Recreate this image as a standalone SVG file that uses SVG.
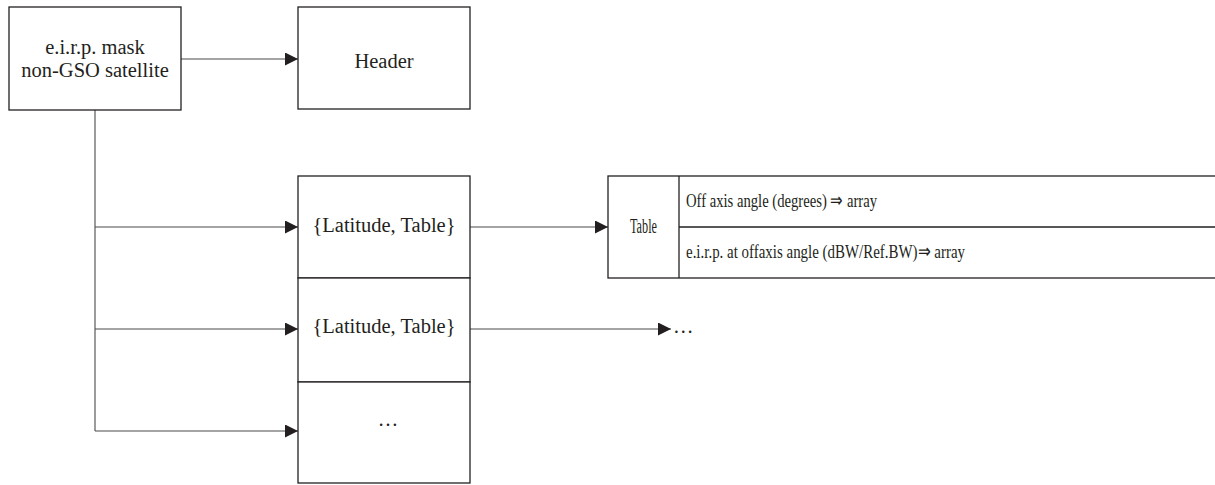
<svg xmlns="http://www.w3.org/2000/svg" width="1215" height="485" viewBox="0 0 1215 485">
  <style>
    .box { fill: #fff; stroke: #231f20; stroke-width: 1.3; }
    .wire { fill: none; stroke: #4a4a4a; stroke-width: 1.1; }
    text { font-family: 'Liberation Serif', serif; font-size: 20.5px; fill: #231f20; }
    .mid { text-anchor: middle; }
    .cell { font-size: 19.5px; }
  </style>
  <defs>
    <marker id="arrow" viewBox="0 0 13 13" refX="13" refY="6.5" markerWidth="13" markerHeight="13" markerUnits="userSpaceOnUse" orient="auto">
      <path d="M0,0 L13,6.5 L0,13 Z" fill="#231f20"/>
    </marker>
  </defs>

  <g id="connectors">
    <path class="wire" d="M181,59 H298" marker-end="url(#arrow)"/>
    <path class="wire" d="M95,110 V431"/>
    <path class="wire" d="M95,227 H298" marker-end="url(#arrow)"/>
    <path class="wire" d="M95,329 H298" marker-end="url(#arrow)"/>
    <path class="wire" d="M95,431 H298" marker-end="url(#arrow)"/>
    <path class="wire" d="M470,227 H608" marker-end="url(#arrow)"/>
    <path class="wire" d="M470,329 H671" marker-end="url(#arrow)"/>
  </g>

  <g id="mask">
    <rect class="box" x="9" y="7" width="172" height="103"/>
    <text class="mid" x="95" y="54">e.i.r.p. mask</text>
    <text class="mid" x="95" y="77">non-GSO satellite</text>
  </g>

  <g id="header">
    <rect class="box" x="298" y="7" width="172" height="102"/>
    <text class="mid" x="384" y="68">Header</text>
  </g>

  <g id="entry1">
    <rect class="box" x="298" y="176" width="172" height="102"/>
    <text class="mid" x="384" y="232">{Latitude, Table}</text>
  </g>

  <g id="entry2">
    <rect class="box" x="298" y="278" width="172" height="104"/>
    <text class="mid" x="384" y="333">{Latitude, Table}</text>
  </g>

  <g id="entry3">
    <rect class="box" x="298" y="382" width="172" height="101"/>
    <text class="mid" x="388" y="426" font-size="14">…</text>
  </g>

  <g id="more">
    <text x="673" y="333" font-size="14">…</text>
  </g>

  <g id="table">
    <rect class="box" x="608" y="176" width="610" height="102"/>
    <line class="box" x1="679" y1="176" x2="679" y2="278"/>
    <line class="box" x1="679" y1="227" x2="1218" y2="227"/>
    <text x="630" y="233" font-size="16" textLength="27" lengthAdjust="spacingAndGlyphs">Table</text>
    <text class="cell" x="686" y="207" textLength="191" lengthAdjust="spacingAndGlyphs">Off axis angle (degrees) ⇒ array</text>
    <text class="cell" x="686" y="258" textLength="279" lengthAdjust="spacingAndGlyphs">e.i.r.p. at offaxis angle (dBW/Ref.BW)⇒ array</text>
  </g>
</svg>
